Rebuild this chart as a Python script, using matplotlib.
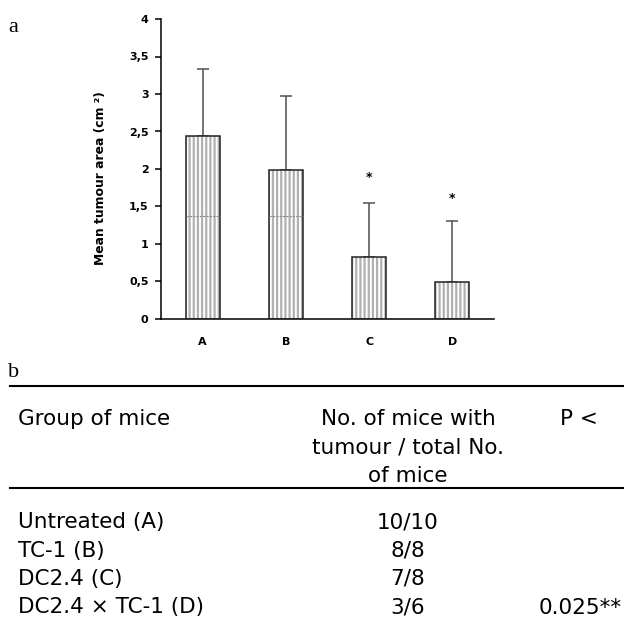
import numpy as np
import matplotlib
matplotlib.use("Agg")
import matplotlib.pyplot as plt
from matplotlib.lines import Line2D

# data
groups = ["A", "B", "C", "D"]
means = [2.44, 1.98, 0.83, 0.49]
sd_up = [0.89, 1.00, 0.71, 0.81]
stars = ["", "", "*", "*"]
star_y = [None, None, 1.88, 1.60]
ref_level = 1.37  # dotted grey line seen inside A and B
ref_bars = [0, 1]

col_head = ["Group of mice", "No. of mice with\ntumour / total No.\nof mice", "P <"]
row_names = ["Untreated (A)", "TC-1 (B)", "DC2.4 (C)", "DC2.4 \u00d7 TC-1 (D)"]
row_ratio = ["10/10", "8/8", "7/8", "3/6"]
row_p = ["", "", "", "0.025**"]

W, H = 624, 621
fig = plt.figure(figsize=(W / 100, H / 100), dpi=100)
plt.rcParams['hatch.linewidth'] = 1.6


def px(x, y):
    return x / W, 1 - y / H


# ---------------- panel a: bar chart
ax = fig.add_axes([161 / W, 1 - 319 / H, (494 - 161) / W, (319 - 19) / H])
x = np.arange(len(groups))
bw = 0.41

ax.errorbar(x, means, yerr=[np.zeros(len(means)), sd_up], fmt='none',
            ecolor='#505050', elinewidth=1.1, capsize=4, capthick=1.1, zorder=1)
ax.bar(x, means, width=bw, color='white', edgecolor='#b0b0b0', hatch='||||',
       linewidth=0, zorder=2)
ax.bar(x, means, width=bw, fill=False, edgecolor='#222222', linewidth=1.1, zorder=3)
for i in ref_bars:
    ax.hlines(ref_level, x[i] - bw / 2, x[i] + bw / 2, colors='#888888',
              linestyles=(0, (2, 1)), linewidth=0.8, zorder=3)
for i, s in enumerate(stars):
    if s:
        ax.text(x[i], star_y[i], s, ha='center', va='center', fontsize=9,
                fontweight='bold', family='DejaVu Sans')

ax.set_xlim(-0.5, 3.5)
ax.set_ylim(0, 4)
ax.set_yticks([0, 0.5, 1, 1.5, 2, 2.5, 3, 3.5, 4])
ax.set_yticklabels(["0", "0,5", "1", "1,5", "2", "2,5", "3", "3,5", "4"])
ax.set_xticks(x)
ax.set_xticklabels(groups)
for lab in ax.get_xticklabels() + ax.get_yticklabels():
    lab.set_fontweight('bold')
    lab.set_fontsize(8)
    lab.set_family('DejaVu Sans')
ax.tick_params(axis='x', length=0, pad=13)
ax.tick_params(axis='y', length=4, width=1.1, pad=5, direction='out')
ax.spines['top'].set_visible(False)
ax.spines['right'].set_visible(False)
ax.spines['left'].set_linewidth(1.1)
ax.spines['bottom'].set_linewidth(1.1)

fig.text(*px(100, 178), "Mean tumour area (cm \u00b2)", rotation=90, ha='center',
         va='center', fontsize=8.9, fontweight='bold', family='DejaVu Sans')

fig.text(*px(8, 32), "a", fontsize=16, family='Liberation Serif', va='baseline')

# ---------------- panel b: table
fig.text(*px(8, 377), "b", fontsize=16, family='Liberation Serif', va='baseline')
for yy in (386, 488):
    fig.add_artist(Line2D([10 / W, 1.0], [1 - yy / H] * 2, color='black', lw=1.5))

tfont = dict(fontsize=15.5, family='DejaVu Sans', va='baseline')
fig.text(*px(18, 425), col_head[0], ha='left', **tfont)
for k, line in enumerate(col_head[1].split("\n")):
    fig.text(*px(408, 425 + 28.5 * k), line, ha='center', **tfont)
fig.text(*px(560, 425), col_head[2], ha='left', **tfont)

for k in range(len(row_names)):
    yy = 528 + 28.5 * k
    fig.text(*px(18, yy), row_names[k], ha='left', **tfont)
    fig.text(*px(408, yy), row_ratio[k], ha='center', **tfont)
    if row_p[k]:
        fig.text(*px(622, yy), row_p[k], ha='right', **tfont)

fig.savefig("out.png", dpi=100)
